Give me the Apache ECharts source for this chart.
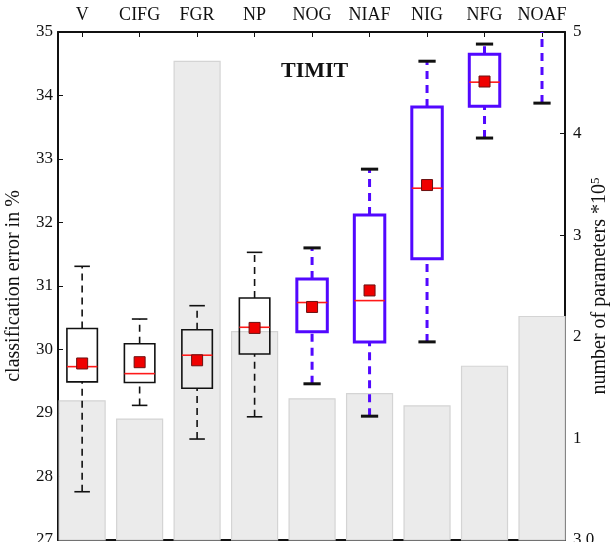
<!DOCTYPE html>
<html>
<head>
<meta charset="utf-8">
<script src="https://cdn.jsdelivr.net/npm/echarts@6/dist/echarts.min.js"></script>
<style>html,body{margin:0;padding:0;background:#fff}#c{width:610px;height:542px}</style>
</head>
<body>
<div id="c"></div>
<script>
// ---- data ----
var categories = ['V', 'CIFG', 'FGR', 'NP', 'NOG', 'NIAF', 'NIG', 'NFG', 'NOAF'];
// classification error (%) box statistics
var whiskerLow  = [27.76, 29.12, 28.59, 28.94, 29.46, 28.95, 30.12, 33.33, 33.88];
var quart1      = [29.49, 29.48, 29.39, 29.93, 30.28, 30.12, 31.43, 33.83, 35.40];
var medians     = [29.73, 29.62, 29.91, 30.35, 30.74, 30.77, 32.54, 34.21, 35.90];
var quart3      = [30.33, 30.09, 30.31, 30.81, 31.11, 32.12, 33.82, 34.65, 36.40];
var whiskerHigh = [31.31, 30.48, 30.69, 31.53, 31.60, 32.84, 34.54, 34.81, 37.00];
var means       = [29.78, 29.80, 29.83, 30.34, 30.67, 30.93, 32.59, 34.22, 35.90];
// number of parameters (*10^5)
var params      = [1.37, 1.19, 4.71, 2.05, 1.39, 1.44, 1.32, 1.71, 2.20];
// style group: 0 = black boxes, 1 = blue boxes
var group       = [0, 0, 0, 0, 1, 1, 1, 1, 1];
var leftTicks = [27, 28, 29, 30, 31, 32, 33, 34, 35];
var rightTicks = [0, 1, 2, 3, 4, 5];

var FONT = '"Liberation Serif", "DejaVu Serif", serif';
var BLUE = '#5208ff';
var Y_MAX = 35;

var chart = echarts.init(document.getElementById('c'));

var idx = categories.map(function (c, i) { return i; });

var barData = params.map(function (v, i) { return [i, v]; });
var boxData = categories.map(function (c, i) {
  return [i, whiskerLow[i], quart1[i], medians[i], quart3[i], whiskerHigh[i], means[i], group[i]];
});

function renderBar(params, api) {
  var i = api.value(0), v = api.value(1);
  var p1 = api.coord([i - 0.4, v]);
  var p2 = api.coord([i + 0.4, 0]);
  return {
    type: 'rect',
    shape: { x: p1[0], y: p1[1], width: p2[0] - p1[0], height: p2[1] - p1[1] },
    style: { fill: '#ebebeb', stroke: '#d4d4d4', lineWidth: 1.2 }
  };
}

function renderBox(params, api) {
  var i = api.value(0);
  var lo = api.value(1), q1 = api.value(2), med = api.value(3), q3 = api.value(4), hi = api.value(5), mean = api.value(6), g = api.value(7);
  var blue = g === 1;
  var col = blue ? BLUE : '#111';
  var lw = blue ? 3 : 1.6;
  var dash = blue ? [8, 6] : [7, 5];
  var halfBox = 0.265;
  var halfCap = blue ? 0.15 : 0.135;
  function c(x, y) { return api.coord([x, Math.min(y, Y_MAX)]); }
  var children = [];
  // lower whisker
  var a = c(i, lo), b = c(i, q1);
  children.push({ type: 'line', shape: { x1: a[0], y1: a[1], x2: b[0], y2: b[1] }, style: { stroke: col, lineWidth: lw, lineDash: dash } });
  children.push({ type: 'line', shape: { x1: c(i - halfCap, lo)[0], y1: a[1], x2: c(i + halfCap, lo)[0], y2: a[1] }, style: { stroke: '#111', lineWidth: lw } });
  if (q1 < Y_MAX) {
    // upper whisker
    var t1 = c(i, q3), t2 = c(i, hi);
    children.push({ type: 'line', shape: { x1: t1[0], y1: t1[1], x2: t2[0], y2: t2[1] }, style: { stroke: col, lineWidth: lw, lineDash: dash } });
    if (hi <= Y_MAX) {
      children.push({ type: 'line', shape: { x1: c(i - halfCap, hi)[0], y1: t2[1], x2: c(i + halfCap, hi)[0], y2: t2[1] }, style: { stroke: '#111', lineWidth: lw } });
    }
    // box
    var bl = c(i - halfBox, q1), tr = c(i + halfBox, q3);
    children.push({ type: 'rect', shape: { x: bl[0], y: tr[1], width: tr[0] - bl[0], height: bl[1] - tr[1] }, style: { fill: 'none', stroke: col, lineWidth: lw } });
    // median
    var m1 = c(i - halfBox, med), m2 = c(i + halfBox, med);
    if (med < Y_MAX) {
      children.push({ type: 'line', shape: { x1: m1[0], y1: m1[1], x2: m2[0], y2: m2[1] }, style: { stroke: '#ff1a1a', lineWidth: 1.6 } });
    }
    if (mean < Y_MAX) {
      var mp = c(i, mean);
      children.push({ type: 'rect', shape: { x: mp[0] - 5.5, y: mp[1] - 5.5, width: 11, height: 11 }, style: { fill: '#f00000', stroke: '#6a1010', lineWidth: 1 } });
    }
  }
  return { type: 'group', children: children };
}

var tickStyle = { show: true, inside: true, length: 5, lineStyle: { color: '#111', width: 1 } };

chart.setOption({
  backgroundColor: '#fff',
  animation: false,
  title: {
    text: 'TIMIT', left: 276, top: 55,
    textStyle: { fontFamily: FONT, fontSize: 22, fontWeight: 'bold', color: '#111' }
  },
  grid: { left: 58, right: 45, top: 32, bottom: 2, containLabel: false, outerBoundsMode: 'none' },
  xAxis: [
    {
      type: 'value', position: 'top', min: -0.42, max: 8.4,
      axisLine: { show: true, onZero: false, lineStyle: { color: '#111', width: 2 } },
      axisTick: Object.assign({ customValues: idx }, tickStyle),
      axisLabel: {
        customValues: idx, margin: 8,
        formatter: function (v) { return categories[Math.round(v)]; },
        fontFamily: FONT, fontSize: 18, color: '#111'
      },
      splitLine: { show: false }
    },
    {
      type: 'value', position: 'bottom', min: -0.42, max: 8.4,
      axisLine: { show: true, onZero: false, lineStyle: { color: '#111', width: 2 } },
      axisTick: Object.assign({ customValues: idx }, tickStyle),
      axisLabel: { show: false },
      splitLine: { show: false }
    }
  ],
  yAxis: [
    {
      type: 'value', position: 'left', min: leftTicks[0], max: leftTicks[leftTicks.length - 1], interval: 1,
      axisLine: { show: true, onZero: false, lineStyle: { color: '#111', width: 2 } },
      axisTick: tickStyle,
      axisLabel: { fontFamily: FONT, fontSize: 17, color: '#111', margin: 5 },
      splitLine: { show: false },
      name: 'classification error in %', nameLocation: 'middle', nameRotate: 90, nameGap: 34,
      nameMoveOverlap: false,
      nameTextStyle: { fontFamily: FONT, fontSize: 20, color: '#111' }
    },
    {
      type: 'value', position: 'right', min: rightTicks[0], max: rightTicks[rightTicks.length - 1], interval: 1,
      axisLine: { show: true, onZero: false, lineStyle: { color: '#111', width: 2 } },
      axisTick: tickStyle,
      axisLabel: {
        fontFamily: FONT, fontSize: 17, color: '#111', margin: 8,
        formatter: function (v) { return v === 0 ? '3.0' : String(v); }
      },
      splitLine: { show: false },
      name: 'number of parameters *10{sup|5}', nameLocation: 'middle', nameRotate: 90, nameGap: 35,
      nameMoveOverlap: false,
      nameTextStyle: {
        fontFamily: FONT, fontSize: 20, color: '#111', align: 'center', verticalAlign: 'middle',
        rich: { sup: { fontFamily: FONT, fontSize: 13, verticalAlign: 'top', padding: [0, 0, 9, 0] } }
      }
    }
  ],
  series: [
    { type: 'custom', xAxisIndex: 0, yAxisIndex: 1, renderItem: renderBar, data: barData, z: 1, silent: true },
    { type: 'custom', xAxisIndex: 0, yAxisIndex: 0, renderItem: renderBox, data: boxData, z: 2, silent: true }
  ]
});
</script>
</body>
</html>
